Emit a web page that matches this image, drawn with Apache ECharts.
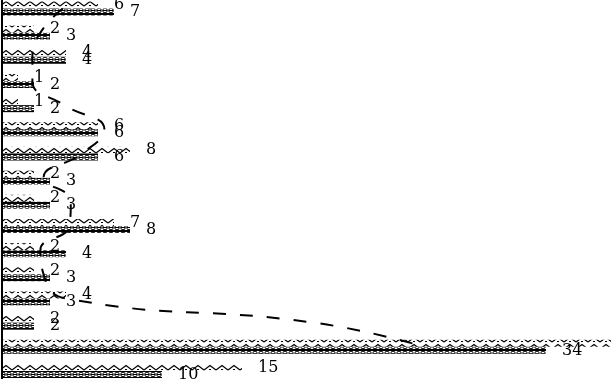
<!DOCTYPE html>
<html><head><meta charset="utf-8">
<script src="https://cdn.jsdelivr.net/npm/echarts@6/dist/echarts.min.js"></script>
<style>html,body{margin:0;padding:0;background:#fff}#c{width:611px;height:379px}</style>
</head><body><div id="c"></div>
<script>
const categories = ['A','B','C','D','E','F','G','H','I','J','K','L','M','N','O','P'];
const zigValues = [6, 2, 4, 1, 1, 6, 8, 2, 2, 7, 2, 2, 4, 2, 40, 15];
const circleValues = [7, 3, 4, 2, 2, 6, 6, 3, 3, 8, 4, 3, 3, 2, 34, 10];
const lineValues = [3.8, 2.4, 1.9, 1.9, 3.9, 6.4, 5, 2.6, 4.3, 4.2, 2.4, 2.6, 4, 19.5, 26.4, null];

function zigPattern() {
  const c = document.createElement('canvas'); c.width = 12; c.height = 7;
  const g = c.getContext('2d');
  g.strokeStyle = '#000'; g.lineWidth = 1.2;
  g.beginPath(); g.moveTo(0, 6); g.lineTo(6, 1.5); g.lineTo(12, 6); g.stroke();
  g.fillStyle = '#000'; g.fillRect(5, 5, 2, 1);
  return c;
}
function circlePattern() {
  const c = document.createElement('canvas'); c.width = 6; c.height = 7;
  const g = c.getContext('2d');
  g.strokeStyle = '#000'; g.lineWidth = 1;
  g.beginPath(); g.moveTo(0, 0.5); g.lineTo(6, 0.5); g.stroke();
  g.beginPath(); g.moveTo(0, 6.5); g.lineTo(6, 6.5); g.stroke();
  g.beginPath(); g.arc(3, 3.5, 2.3, 0, Math.PI * 2); g.stroke();
  g.beginPath(); g.moveTo(1, 3.5); g.lineTo(5, 3.5); g.stroke();
  return c;
}
const labelStyle = {show: true, position: 'right', distance: 16, color: '#000',
  fontFamily: 'DejaVu Serif', fontSize: 16};
const chart = echarts.init(document.getElementById('c'), null, {renderer: 'canvas'});
chart.setOption({
  animation: false,
  backgroundColor: '#fff',
  grid: {left: 2, top: -3.6, width: 640, height: 386.7, containLabel: false, outerBoundsMode: 'none'},
  xAxis: {type: 'value', min: 0, max: 40, show: false},
  yAxis: {type: 'category', data: categories, inverse: true,
    axisLine: {show: true, lineStyle: {color: '#000', width: 2}},
    axisTick: {show: false}, axisLabel: {show: false}, splitLine: {show: false}},
  series: [
    {type: 'bar', data: zigValues, barWidth: 7, barGap: '0%',
     itemStyle: {color: {image: zigPattern(), repeat: 'repeat'}}, label: labelStyle},
    {type: 'bar', data: circleValues, barWidth: 7,
     itemStyle: {color: {image: circlePattern(), repeat: 'repeat'}}, label: labelStyle},
    {type: 'line', data: lineValues, smooth: true, symbol: 'none', connectNulls: false,
     lineStyle: {color: '#000', width: 2, type: [13, 14]}}
  ]
});
</script></body></html>
